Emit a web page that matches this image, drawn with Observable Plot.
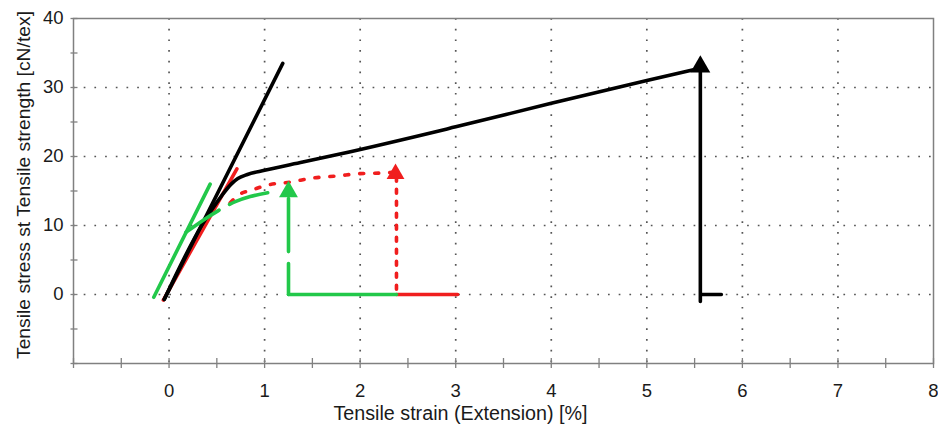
<!DOCTYPE html>
<html><head><meta charset="utf-8">
<script src="https://cdn.jsdelivr.net/npm/d3@7"></script>
<script src="https://cdn.jsdelivr.net/npm/@observablehq/plot@0.6"></script>
<style>body{margin:0;background:#fff;} #chart{width:938px;height:426px;}</style>
</head><body><div id="chart"></div>
<script>
// ticks / labels
const xTicks = d3.range(-1, 8.001, 0.5);
const xLabels = [0, 1, 2, 3, 4, 5, 6, 7, 8];
const yTicks = d3.range(-10, 40.001, 5);
const yLabels = [0, 10, 20, 30, 40];
const xGrid = [0, 1, 2, 3, 4, 5, 6, 7];
const yGrid = [0, 10, 20, 30];
const xTitle = "Tensile strain (Extension) [%]";
const yTitle = "Tensile stress st Tensile strength [cN/tex]";

// black series
const blackModulusX = [-0.05, 1.19];
const blackModulusY = [-0.7, 33.5];
const blackCurveX = [-0.05, 0.35, 0.55, 0.65, 0.72, 0.82, 1.0, 1.4, 1.8, 3.0, 4.0, 5.0, 5.5];
const blackCurveY = [-0.7, 10.2, 14.3, 16.0, 16.8, 17.4, 18.0, 19.2, 20.4, 24.3, 27.7, 31.0, 32.6];
const blackDropX = [5.56, 5.56, 5.56, 5.78];
const blackDropY = [33.0, -1.0, 0, 0];

// red series
const redModulusX = [-0.06, 0.71];
const redModulusY = [-0.8, 18.2];
const redCurveX = [0.64, 0.75, 0.86, 1.01, 1.27, 1.52, 1.77, 1.98, 2.22, 2.34];
const redCurveY = [13.3, 14.6, 15.1, 15.8, 16.3, 16.9, 17.2, 17.5, 17.6, 17.7];
const redDropX = [2.38, 2.38];
const redDropY = [17.0, 0];
const redTailX = [2.38, 3.02];
const redTailY = [0, 0];

// green series
const greenModulusX = [-0.16, 0.43];
const greenModulusY = [-0.4, 16.0];
const greenCurveX = [0.175, 0.35, 0.52, 0.7, 0.85, 1.05];
const greenCurveY = [9.0, 10.7, 12.2, 13.5, 14.2, 14.8];
const greenDropX = [1.25, 1.25];
const greenDropY = [13.9, 0];
const greenTailX = [1.25, 2.38];
const greenTailY = [0, 0];

// arrowheads (break points)
const arrowX = [5.56, 2.37, 1.25];
const arrowY = [33.0, 17.5, 14.9];
const arrowColor = ["#000000", "#f01e1e", "#22c84a"];
const arrowR = [7.4, 6.6, 7.0];

const BLACK = "#000000", RED = "#f01e1e", GREEN = "#22c84a";
const pts = (xs, ys) => xs.map((x, i) => ({x, y: ys[i]}));
const arrows = arrowX.map((x, i) => ({x, y: arrowY[i], c: arrowColor[i], r: arrowR[i]}));

const lw = 3.6;
const chart = Plot.plot({
  width: 938,
  height: 426,
  marginLeft: 73,
  marginRight: 5,
  marginTop: 18,
  marginBottom: 63,
  style: {fontFamily: "'Liberation Sans', Arial, sans-serif", fontSize: "18px", background: "#fff", color: "#1a1a1a"},
  x: {domain: [-1, 8]},
  y: {domain: [-10, 40]},
  r: {type: "identity"},
  marks: [
    Plot.gridX(xGrid, {stroke: "#555", strokeOpacity: 1, strokeWidth: 1.7, strokeDasharray: "1.7,9"}),
    Plot.gridY(yGrid, {stroke: "#555", strokeOpacity: 1, strokeWidth: 1.7, strokeDasharray: "1.7,9"}),
    Plot.frame({stroke: "#808080", strokeWidth: 1.5}),
    Plot.axisX(xTicks, {tickSize: 10, dy: -5, tickFormat: () => "", stroke: "#808080", strokeWidth: 1.3, label: null}),
    Plot.axisX(xLabels, {tickSize: 0, tickPadding: 20, label: null, fill: "#1a1a1a", fontSize: 18.5}),
    Plot.axisY(yTicks, {tickSize: 7, dx: 4.5, tickFormat: () => "", stroke: "#808080", strokeWidth: 1.3, label: null}),
    Plot.axisY(yLabels, {tickSize: 0, tickPadding: 10, label: null, fill: "#1a1a1a", fontSize: 18.5}),
    Plot.text([xTitle], {frameAnchor: "bottom", textAnchor: "middle", lineAnchor: "middle", dx: -43, dy: 50, fontSize: 20, fill: "#1a1a1a", className: "xtitle"}),
    Plot.text([yTitle], {frameAnchor: "left", textAnchor: "middle", lineAnchor: "middle", rotate: -90, dx: -50, dy: -6, fontSize: 19, fill: "#1a1a1a", className: "ytitle"}),

    // red
    Plot.line(pts(redModulusX, redModulusY), {x: "x", y: "y", stroke: RED, strokeWidth: lw}),
    Plot.line(pts(redCurveX, redCurveY), {x: "x", y: "y", stroke: RED, strokeWidth: lw, strokeDasharray: "4,11", curve: "monotone-x"}),
    Plot.line(pts(redDropX, redDropY), {x: "x", y: "y", stroke: RED, strokeWidth: lw, strokeDasharray: "4,8"}),
    Plot.line(pts(redTailX, redTailY), {x: "x", y: "y", stroke: RED, strokeWidth: lw}),
    // black
    Plot.line(pts(blackModulusX, blackModulusY), {x: "x", y: "y", stroke: BLACK, strokeWidth: lw}),
    Plot.line(pts(blackCurveX, blackCurveY), {x: "x", y: "y", stroke: BLACK, strokeWidth: lw, curve: "monotone-x"}),
    Plot.line(pts(blackDropX, blackDropY), {x: "x", y: "y", stroke: BLACK, strokeWidth: lw}),
    // green
    Plot.line(pts(greenModulusX, greenModulusY), {x: "x", y: "y", stroke: GREEN, strokeWidth: lw}),
    Plot.line(pts(greenCurveX, greenCurveY), {x: "x", y: "y", stroke: GREEN, strokeWidth: lw, strokeDasharray: "40,12", curve: "monotone-x"}),
    Plot.line(pts(greenDropX, greenDropY), {x: "x", y: "y", stroke: GREEN, strokeWidth: lw, strokeDasharray: "53,12"}),
    Plot.line(pts(greenTailX, greenTailY), {x: "x", y: "y", stroke: GREEN, strokeWidth: lw}),
    // arrowheads
    Plot.dot(arrows, {x: "x", y: "y", fill: "c", r: "r", symbol: "triangle", stroke: null})
  ]
});
document.getElementById("chart").append(chart);
const svg = d3.select(chart);
svg.selectAll(".xtitle text").attr("textLength", 254).attr("lengthAdjust", "spacingAndGlyphs");
svg.selectAll(".ytitle text").attr("textLength", 348).attr("lengthAdjust", "spacingAndGlyphs");
</script>
</body></html>
